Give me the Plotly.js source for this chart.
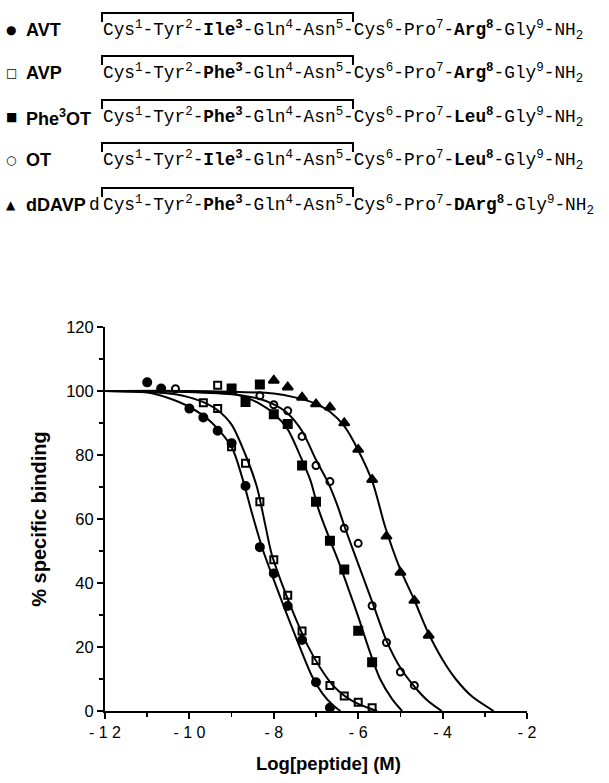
<!DOCTYPE html>
<html>
<head>
<meta charset="utf-8">
<script src="https://cdn.plot.ly/plotly-3.0.1.min.js"></script>
<style>html,body{margin:0;padding:0;background:#fff;}#chart{width:609px;height:783px;}</style>
</head>
<body>
<div id="chart"></div>
<script>
// ---- measured points ----
const AVT_x = [-11, -10.67, -10, -9.67, -9.33, -9, -8.67, -8.33, -8, -7.67, -7.33, -7, -6.67];
const AVT_y = [102.7, 100.8, 94.5, 91.7, 87.6, 83.7, 70.3, 51.2, 43.0, 32.8, 22.2, 9.0, 1.0];

const AVP_x = [-9.67, -9.33, -9.33, -9, -8.67, -8.33, -8, -7.67, -7.33, -7, -6.67, -6.33, -6, -5.67];
const AVP_y = [96.3, 101.8, 94.5, 82.6, 77.4, 65.4, 47.3, 36.2, 25.0, 15.8, 8.0, 4.7, 2.7, 1.0];

const PHE3OT_x = [-9, -8.67, -8.33, -8, -7.67, -7.33, -7, -6.67, -6.33, -6, -5.67];
const PHE3OT_y = [100.8, 96.6, 102.0, 92.7, 89.7, 76.7, 65.4, 53.2, 44.2, 25.1, 15.2];

const OT_x = [-10.33, -8.33, -8, -7.67, -7.33, -7, -6.67, -6.33, -6, -5.67, -5.33, -5, -4.67];
const OT_y = [100.7, 98.5, 95.7, 93.8, 85.8, 76.7, 71.7, 57.1, 52.4, 32.9, 21.4, 12.2, 8.0];

const DDAVP_x = [-8, -7.67, -7.33, -7, -6.67, -6.33, -6, -5.67, -5.33, -5, -4.67, -4.33];
const DDAVP_y = [103.3, 101.2, 98.0, 95.9, 94.9, 90.0, 81.7, 72.3, 54.6, 43.3, 34.5, 23.6];

// ---- fitted curves ----
const AVT_fit_x = [-12, -11, -10.5, -10, -9.5, -9, -8.75, -8.5, -8.25, -8, -7.7, -7.4, -7.1, -6.85, -6.6, -6.42];
const AVT_fit_y = [100, 99.5, 97.8, 95, 90.5, 82.5, 73, 61, 50, 41, 30.5, 20.5, 11, 5.5, 1.8, 0];

const AVP_fit_x = [-12, -11, -10.33, -10, -9.67, -9.33, -9, -8.67, -8.4, -8.2, -8.05, -7.8, -7.5, -7.2, -6.9, -6.6, -6.3, -6, -5.55];
const AVP_fit_y = [100, 99.7, 99, 98, 96.5, 94, 89.5, 80, 70, 58, 49, 39.5, 29.5, 20.5, 13.5, 8, 4.5, 2.2, 0];

const PHE3OT_fit_x = [-12, -10, -9, -8.67, -8.33, -8, -7.67, -7.4, -7.13, -6.94, -6.67, -6.46, -6.2, -6, -5.75, -5.48, -5.2, -4.96];
const PHE3OT_fit_y = [100, 100, 99.3, 98, 96, 93, 88, 80.5, 72, 63, 53.5, 46.5, 37, 29.5, 19.5, 10, 3.8, 0];

const OT_fit_x = [-12, -10.33, -9, -8.33, -8, -7.67, -7.33, -7, -6.7, -6.5, -6.32, -6, -5.65, -5.33, -5, -4.66, -4.35, -4.02];
const OT_fit_y = [100, 99.8, 99, 97.5, 95.8, 93, 87.5, 78.5, 71, 64.5, 57.5, 46, 33.5, 22, 13.5, 7.5, 3.2, 0];

const DDAVP_fit_x = [-12, -9, -8, -7.5, -7, -6.67, -6.33, -6, -5.66, -5.36, -5.01, -4.68, -4.36, -4, -3.69, -3.3, -2.79];
const DDAVP_fit_y = [100, 99.8, 99.2, 98, 96, 93.5, 89, 81.5, 71.5, 57.5, 44.5, 35, 25, 16, 10, 4.5, 0];

// ---- axis ticks and titles ----
const X_TICKS = [-12, -10, -8, -6, -4, -2];
const X_TICK_TEXT = ["- 1 2", "- 1 0", "- 8", "- 6", "- 4", "- 2"];
const Y_TICKS = [0, 20, 40, 60, 80, 100, 120];
const X_TITLE = "Log[peptide] (M)";
const Y_TITLE = "% specific binding";

// ---- header (legend + sequences) ----
const NAMES = ["AVT", "AVP", "Phe<sup>3</sup>OT", "OT", "dDAVP"];
const SYMBOLS = ["\u25CF", "\u25A1", "\u25A0", "\u25CB", "\u25B2"];
const SEQ = [
  "Cys<sup>1</sup>-Tyr<sup>2</sup>-<b>Ile<sup>3</sup></b>-Gln<sup>4</sup>-Asn<sup>5</sup>-Cys<sup>6</sup>-Pro<sup>7</sup>-<b>Arg<sup>8</sup></b>-Gly<sup>9</sup>-NH<sub>2</sub>",
  "Cys<sup>1</sup>-Tyr<sup>2</sup>-<b>Phe<sup>3</sup></b>-Gln<sup>4</sup>-Asn<sup>5</sup>-Cys<sup>6</sup>-Pro<sup>7</sup>-<b>Arg<sup>8</sup></b>-Gly<sup>9</sup>-NH<sub>2</sub>",
  "Cys<sup>1</sup>-Tyr<sup>2</sup>-<b>Phe<sup>3</sup></b>-Gln<sup>4</sup>-Asn<sup>5</sup>-Cys<sup>6</sup>-Pro<sup>7</sup>-<b>Leu<sup>8</sup></b>-Gly<sup>9</sup>-NH<sub>2</sub>",
  "Cys<sup>1</sup>-Tyr<sup>2</sup>-<b>Ile<sup>3</sup></b>-Gln<sup>4</sup>-Asn<sup>5</sup>-Cys<sup>6</sup>-Pro<sup>7</sup>-<b>Leu<sup>8</sup></b>-Gly<sup>9</sup>-NH<sub>2</sub>",
  "Cys<sup>1</sup>-Tyr<sup>2</sup>-<b>Phe<sup>3</sup></b>-Gln<sup>4</sup>-Asn<sup>5</sup>-Cys<sup>6</sup>-Pro<sup>7</sup>-<b>DArg<sup>8</sup></b>-Gly<sup>9</sup>-NH<sub>2</sub>"
];
const SEQ_PREFIX = ["", "", "", "", "d"];

// layout geometry (pixels)
const W = 609, H = 783;
const M = {l: 105, r: 82, t: 327, b: 72};
const PW = W - M.l - M.r, PH = H - M.t - M.b;
const px2x = p => (p - M.l) / PW;
const py2y = p => (H - M.b - p) / PH;
const ROW_Y = [30, 73, 117, 160, 205];

const lineStyle = {color: "#000", width: 2, shape: "spline", smoothing: 0.8};
function curve(x, y) {
  return {x: x, y: y, mode: "lines", line: lineStyle, hoverinfo: "skip", showlegend: false, cliponaxis: true};
}
function pts(x, y, symbol, size) {
  return {x: x, y: y, mode: "markers", showlegend: false, cliponaxis: false,
          marker: {symbol: symbol, size: size, color: "#000", line: {color: "#000", width: 2}}};
}

const data = [
  curve(AVT_fit_x, AVT_fit_y),
  curve(AVP_fit_x, AVP_fit_y),
  curve(PHE3OT_fit_x, PHE3OT_fit_y),
  curve(OT_fit_x, OT_fit_y),
  curve(DDAVP_fit_x, DDAVP_fit_y),
  pts(AVT_x, AVT_y, "circle", 8),
  pts(AVP_x, AVP_y, "square-open", 7),
  pts(PHE3OT_x, PHE3OT_y, "square", 8),
  pts(OT_x, OT_y, "circle-open", 7),
  pts(DDAVP_x, DDAVP_y, "triangle-up", 9)
];

const annotations = [];
const shapes = [];
const SEQ_SIZE = 17.8;
const SEQ_FONT = {family: "Liberation Mono", size: SEQ_SIZE, color: "#000"};
const SEQ_START = 101;
// monospace: 20 characters + 5 superscripts (70%) before "Cys6"
const SEQ_MID = SEQ_START + SEQ_SIZE * (20 * 0.6 + 5 * 0.6 * 0.7);
for (let i = 0; i < NAMES.length; i++) {
  const yc = ROW_Y[i];
  annotations.push({xref: "paper", yref: "paper", x: px2x(11), y: py2y(yc), xanchor: "center", yanchor: "middle",
    text: SYMBOLS[i], showarrow: false, font: {family: "DejaVu Sans", size: 12, color: "#000"}});
  annotations.push({xref: "paper", yref: "paper", x: px2x(24), y: py2y(yc), xanchor: "left", yanchor: "middle",
    text: "<b>" + NAMES[i] + "</b>", showarrow: false, font: {family: "Liberation Sans", size: 18, color: "#000"}});
  annotations.push({xref: "paper", yref: "paper", x: px2x(SEQ_START), y: py2y(yc), xanchor: "left", yanchor: "middle",
    text: SEQ[i], showarrow: false, font: SEQ_FONT});
  if (SEQ_PREFIX[i]) {
    annotations.push({xref: "paper", yref: "paper", x: px2x(SEQ_START + 1), y: py2y(yc), xanchor: "right", yanchor: "middle",
      text: SEQ_PREFIX[i], showarrow: false, font: SEQ_FONT});
  }
  const top = yc - 17, bot = yc - 8;
  shapes.push({type: "path", xref: "paper", yref: "paper",
    path: "M " + px2x(SEQ_START + 1) + "," + py2y(bot) + " L " + px2x(SEQ_START + 1) + "," + py2y(top) +
          " L " + px2x(SEQ_MID + 1) + "," + py2y(top) + " L " + px2x(SEQ_MID + 1) + "," + py2y(bot),
    line: {color: "#000", width: 2}});
}
// x-axis title (placed slightly right of plot centre, as in the original)
annotations.push({xref: "paper", yref: "paper", x: px2x(328), y: py2y(763), xanchor: "center", yanchor: "middle",
  text: "<b>" + X_TITLE + "</b>", showarrow: false, font: {family: "Liberation Sans", size: 18.5, color: "#000"}});

const layout = {
  width: W, height: H,
  margin: M,
  paper_bgcolor: "#fff", plot_bgcolor: "#fff",
  showlegend: false,
  font: {family: "Liberation Sans", color: "#000"},
  xaxis: {
    range: [-12, -2], showgrid: false, zeroline: false,
    showline: true, linecolor: "#000", linewidth: 2,
    ticks: "outside", ticklen: 6, tickwidth: 2, tickcolor: "#000",
    tickvals: X_TICKS, ticktext: X_TICK_TEXT,
    tickfont: {family: "Liberation Sans", size: 16, color: "#000"},
    minor: {dtick: 1, ticks: "outside", ticklen: 4, tickwidth: 1.5, tickcolor: "#000", showgrid: false}
  },
  yaxis: {
    range: [0, 120], showgrid: false, zeroline: false,
    showline: true, linecolor: "#000", linewidth: 2,
    ticks: "outside", ticklen: 6, tickwidth: 2, tickcolor: "#000",
    tickvals: Y_TICKS,
    tickfont: {family: "Liberation Sans", size: 16.5, color: "#000"},
    minor: {dtick: 10, ticks: "outside", ticklen: 4, tickwidth: 1.5, tickcolor: "#000", showgrid: false},
    title: {text: "<b>" + Y_TITLE + "</b>", font: {family: "Liberation Sans", size: 20, color: "#000"}, standoff: 14}
  },
  annotations: annotations,
  shapes: shapes
};

Plotly.newPlot("chart", data, layout, {staticPlot: true, displayModeBar: false});
</script>
</body>
</html>
